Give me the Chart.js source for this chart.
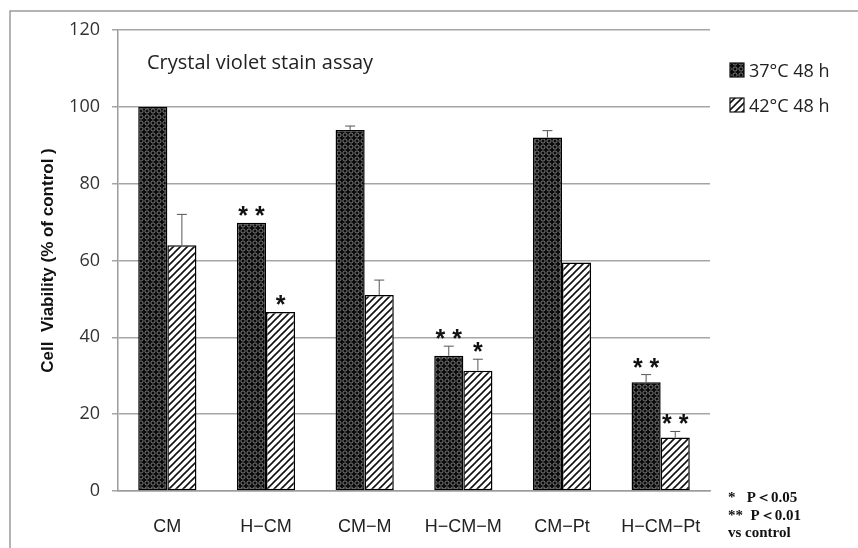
<!DOCTYPE html>
<html>
<head>
<meta charset="utf-8">
<title>Crystal violet stain assay</title>
<script src="https://cdn.jsdelivr.net/npm/chart.js@4.4.1/dist/chart.umd.min.js"></script>
<style>
  html, body { margin: 0; padding: 0; background: #fff; }
  #wrap { width: 858px; height: 548px; position: relative; }
</style>
</head>
<body>
<div id="wrap"><canvas id="viabilityChart" width="858" height="548"></canvas></div>
<script>
// values
const categories = ['CM', 'H\u2212CM', 'CM\u2212M', 'H\u2212CM\u2212M', 'CM\u2212Pt', 'H\u2212CM\u2212Pt'];
const seriesNames = ['37\u00B0C 48 h', '42\u00B0C 48 h'];
const viability37 = [100, 69.8, 94, 35.2, 92, 28.3];
const viability42 = [64, 46.6, 51, 31.3, 59.5, 13.9];
const error37 = [0, 0, 1, 2.5, 1.8, 2];
const error42 = [8, 0, 3.9, 3, 0, 1.6];
const stars37 = ['', '* *', '', '* *', '', '* *'];
const stars42 = ['', '*', '', '*', '', '* *'];
const yTicks = [0, 20, 40, 60, 80, 100, 120];
const footnotes = ['*   P\uFF1C0.05', '**  P\uFF1C0.01', 'vs control'];

(function () {
  // dark "cross" fill for the 37 C bars
  function makeDarkPattern() {
    const c = document.createElement('canvas');
    c.width = 6; c.height = 6;
    const g = c.getContext('2d');
    g.fillStyle = '#0a0a0a';
    g.fillRect(0, 0, 6, 6);
    g.strokeStyle = '#8a8a8a';
    g.lineWidth = 0.9;
    g.beginPath();
    g.arc(3, 3, 2.1, 0, Math.PI * 2);
    g.stroke();
    return g.createPattern(c, 'repeat');
  }

  // white with "/" hatch for the 42 C bars
  function makeHatchPattern() {
    const n = 7;
    const c = document.createElement('canvas');
    c.width = n; c.height = n;
    const g = c.getContext('2d');
    g.fillStyle = '#fff';
    g.fillRect(0, 0, n, n);
    g.strokeStyle = '#111';
    g.lineWidth = 1.6;
    g.beginPath();
    g.moveTo(-1, n + 1); g.lineTo(n + 1, -1);
    g.moveTo(-1, 1); g.lineTo(1, -1);
    g.moveTo(n - 1, n + 1); g.lineTo(n + 1, n - 1);
    g.stroke();
    return g.createPattern(c, 'repeat');
  }

  const darkFill = makeDarkPattern();
  const hatchFill = makeHatchPattern();

  // whiskers (upper only) and significance stars
  const errorBarPlugin = {
    id: 'errorBars',
    afterDatasetsDraw(chart) {
      const ctx = chart.ctx;
      const y = chart.scales.y;
      chart.data.datasets.forEach((ds, di) => {
        const meta = chart.getDatasetMeta(di);
        meta.data.forEach((bar, i) => {
          const top = ds.data[i] + (ds.errors[i] || 0);
          const topPx = y.getPixelForValue(top);
          if (ds.errors[i]) {
            ctx.save();
            ctx.strokeStyle = '#555';
            ctx.lineWidth = 1;
            ctx.beginPath();
            ctx.moveTo(bar.x, bar.y);
            ctx.lineTo(bar.x, topPx);
            ctx.moveTo(bar.x - 5, topPx);
            ctx.lineTo(bar.x + 5, topPx);
            ctx.stroke();
            ctx.restore();
          }
          if (ds.stars[i]) {
            ctx.save();
            ctx.fillStyle = '#111';
            ctx.font = 'bold 25px "Liberation Sans"';
            ctx.textAlign = 'center';
            ctx.textBaseline = 'alphabetic';
            ctx.fillText(ds.stars[i], bar.x, topPx + 1);
            ctx.restore();
          }
        });
      });
    },
  };

  // frame, inner title, legend and footnote
  const decorPlugin = {
    id: 'decor',
    afterDraw(chart) {
      const ctx = chart.ctx;
      const area = chart.chartArea;
      ctx.save();
      ctx.strokeStyle = '#9c9c9c';
      ctx.lineWidth = 1.5;
      ctx.beginPath();
      ctx.moveTo(10, 548);
      ctx.lineTo(10, 11);
      ctx.lineTo(858, 11);
      ctx.stroke();

      ctx.fillStyle = '#222';
      ctx.font = '20px "Open Sans"';
      ctx.textBaseline = 'alphabetic';
      ctx.textAlign = 'left';
      ctx.fillText('Crystal violet stain assay', area.left + 29, 69);

      chart.data.datasets.forEach((ds, di) => {
        const bx = area.right + 20;
        const by = 63 + di * 35;
        ctx.fillStyle = ds.backgroundColor;
        ctx.fillRect(bx, by, 14, 14);
        ctx.strokeStyle = '#111';
        ctx.lineWidth = 1.2;
        ctx.strokeRect(bx, by, 14, 14);
        ctx.fillStyle = '#222';
        ctx.font = '18px "Open Sans"';
        ctx.fillText(ds.label, bx + 19, by + 14);
      });

      ctx.fillStyle = '#111';
      ctx.font = 'bold 15px "Liberation Serif"';
      footnotes.forEach((line, i) => {
        ctx.fillText(line, area.right + 18, 502 + i * 17.5);
      });
      ctx.restore();
    },
  };

  const ctx = document.getElementById('viabilityChart').getContext('2d');
  new Chart(ctx, {
    type: 'bar',
    data: {
      labels: categories,
      datasets: [
        {
          label: seriesNames[0],
          data: viability37,
          errors: error37,
          stars: stars37,
          backgroundColor: darkFill,
          borderColor: '#000',
          borderWidth: 1.5,
          borderSkipped: false,
        },
        {
          label: seriesNames[1],
          data: viability42,
          errors: error42,
          stars: stars42,
          backgroundColor: hatchFill,
          borderColor: '#000',
          borderWidth: 1.5,
          borderSkipped: false,
        },
      ],
    },
    options: {
      responsive: false,
      animation: false,
      layout: { padding: { left: 10, top: 30, right: 148, bottom: 0 } },
      datasets: { bar: { categoryPercentage: 0.59, barPercentage: 1.0 } },
      plugins: {
        legend: { display: false },
        tooltip: { enabled: false },
      },
      scales: {
        x: {
          grid: { display: false },
          border: { display: true, color: '#9c9c9c', width: 1.5 },
          ticks: { color: '#222', font: { family: 'Liberation Sans', size: 18 }, padding: 17 },
          afterFit(scale) { scale.height = 57; },
        },
        y: {
          min: 0,
          max: 120,
          afterBuildTicks(scale) { scale.ticks = yTicks.map((v) => ({ value: v })); },
          grid: { color: '#a5a5a5', lineWidth: 1.5, tickLength: 6 },
          border: { display: true, color: '#9c9c9c', width: 1.5 },
          ticks: { color: '#333', font: { family: 'Open Sans', size: 18 }, padding: 12 },
          title: {
            display: true,
            text: 'Cell  Viability (% of control )',
            color: '#111',
            font: { family: 'Liberation Sans', size: 17, weight: 'bold' },
            padding: { top: 28, bottom: 0 },
          },
          afterFit(scale) { scale.width = 108; },
        },
      },
    },
    plugins: [errorBarPlugin, decorPlugin],
  });
})();
</script>
</body>
</html>
